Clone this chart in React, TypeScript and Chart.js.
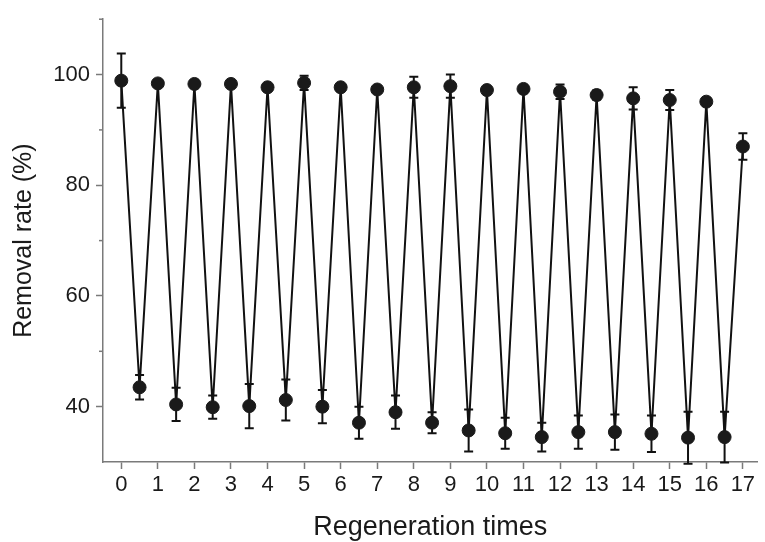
import React, { useEffect, useRef } from "react";
import { Chart, registerables } from "chart.js";

Chart.register(...registerables);

// Regeneration positions (adsorption at integer, desorption at half step)
const X_POS = [0, 0.5, 1, 1.5, 2, 2.5, 3, 3.5, 4, 4.5, 5, 5.5, 6, 6.5, 7, 7.5, 8, 8.5, 9, 9.5, 10, 10.5, 11, 11.5, 12, 12.5, 13, 13.5, 14, 14.5, 15, 15.5, 16, 16.5, 17];
const REMOVAL = [98.9, 43.5, 98.4, 40.4, 98.3, 39.9, 98.3, 40.1, 97.7, 41.2, 98.5, 40.0, 97.7, 37.1, 97.3, 39.0, 97.7, 37.1, 97.9, 35.7, 97.2, 35.2, 97.4, 34.5, 96.9, 35.4, 96.3, 35.4, 95.7, 35.1, 95.4, 34.4, 95.1, 34.5, 87.0];
const ERRORS = [4.9, 2.2, 0.4, 3.0, 0.4, 2.1, 0.4, 4.0, 0.4, 3.7, 1.3, 3.0, 0.4, 2.9, 0.5, 3.0, 1.9, 1.9, 2.1, 3.8, 0.4, 2.8, 0.4, 2.6, 1.3, 3.0, 0.8, 3.2, 2.0, 3.3, 1.8, 4.7, 0.6, 4.6, 2.4];

const X_TICKS = [0, 1, 2, 3, 4, 5, 6, 7, 8, 9, 10, 11, 12, 13, 14, 15, 16, 17];
const Y_LABELS = [40, 60, 80, 100];
const Y_MINOR = [50, 70, 90, 110];

const FONT = "'Liberation Sans', Arial, Helvetica, sans-serif";
const AXIS_COLOR = "#7a7a7a";
const TEXT_COLOR = "#1a1a1a";

const errorBarPlugin = {
  id: "errorBars",
  beforeDatasetsDraw(chart: any) {
    const { ctx, scales } = chart;
    const xs = scales.x;
    const ys = scales.y;
    ctx.save();
    ctx.strokeStyle = "#111";
    ctx.lineWidth = 2;
    X_POS.forEach((xv, i) => {
      const px = xs.getPixelForValue(xv);
      const top = ys.getPixelForValue(REMOVAL[i] + ERRORS[i]);
      const bot = ys.getPixelForValue(REMOVAL[i] - ERRORS[i]);
      ctx.beginPath();
      ctx.moveTo(px, top);
      ctx.lineTo(px, bot);
      ctx.moveTo(px - 4.5, top);
      ctx.lineTo(px + 4.5, top);
      ctx.moveTo(px - 4.5, bot);
      ctx.lineTo(px + 4.5, bot);
      ctx.stroke();
    });
    ctx.restore();
  },
  afterDraw(chart: any) {
    const { ctx, scales } = chart;
    const ys = scales.y;
    const left = chart.chartArea.left;
    ctx.save();
    ctx.strokeStyle = AXIS_COLOR;
    ctx.lineWidth = 1.5;
    Y_MINOR.forEach((v) => {
      const py = ys.getPixelForValue(v);
      ctx.beginPath();
      ctx.moveTo(left - 4, py);
      ctx.lineTo(left, py);
      ctx.stroke();
    });
    ctx.restore();
  },
};

export default function App() {
  const canvasRef = useRef<HTMLCanvasElement | null>(null);

  useEffect(() => {
    if (!canvasRef.current) return;
    const chart = new Chart(canvasRef.current, {
      type: "line",
      data: {
        datasets: [
          {
            label: "Removal rate",
            data: X_POS.map((x, i) => ({ x, y: REMOVAL[i] })),
            borderColor: "#111",
            borderWidth: 2,
            pointRadius: 6.5,
            pointBackgroundColor: "#1a1a1a",
            pointBorderColor: "#1a1a1a",
            pointBorderWidth: 1,
            tension: 0,
            clip: false as any,
          },
        ],
      },
      options: {
        responsive: false,
        animation: false,
        devicePixelRatio: 1,
        layout: { padding: { top: 14, right: 0, left: 0, bottom: 0 } },
        plugins: {
          legend: { display: false },
          tooltip: { enabled: false },
        },
        scales: {
          x: {
            type: "linear",
            min: -0.5,
            max: 17.4,
            afterBuildTicks: (scale: any) => {
              scale.ticks = X_TICKS.map((v) => ({ value: v }));
            },
            afterFit: (scale: any) => {
              scale.height = 80;
              scale.paddingLeft = 0;
              scale.paddingRight = 0;
            },
            ticks: {
              autoSkip: false,
              maxRotation: 0,
              padding: 3,
              color: TEXT_COLOR,
              font: { family: FONT, size: 22 },
              callback: (v: any) => String(v),
            },
            grid: {
              drawOnChartArea: false,
              drawTicks: true,
              tickLength: 7,
              tickColor: AXIS_COLOR,
              tickWidth: 1.5,
            },
            border: { display: true, color: AXIS_COLOR, width: 1.5 },
            title: {
              display: true,
              text: "Regeneration times",
              color: TEXT_COLOR,
              font: { family: FONT, size: 27, lineHeight: 1 },
              padding: { top: 0, bottom: 1 },
            },
          },
          y: {
            type: "linear",
            min: 30,
            max: 110,
            afterFit: (scale: any) => {
              scale.width = 103;
            },
            ticks: {
              stepSize: 10,
              padding: 6,
              color: TEXT_COLOR,
              font: { family: FONT, size: 22 },
              callback: (v: any) => (Y_LABELS.includes(Number(v)) ? String(v) : ""),
            },
            grid: {
              drawOnChartArea: false,
              drawTicks: true,
              tickLength: 7,
              tickWidth: 1.5,
              tickColor: (ctx: any) =>
                ctx.tick && Y_LABELS.includes(ctx.tick.value) ? AXIS_COLOR : "rgba(0,0,0,0)",
            },
            border: { display: true, color: AXIS_COLOR, width: 1.5 },
            title: {
              display: true,
              text: "Removal rate (%)",
              color: TEXT_COLOR,
              font: { family: FONT, size: 25, lineHeight: 1 },
              padding: { top: 12, bottom: 0 },
            },
          },
        },
      },
      plugins: [errorBarPlugin],
    } as any);
    return () => chart.destroy();
  }, []);

  return (
    <div style={{ position: "absolute", left: 0, top: 0, width: 765, height: 542, background: "#fff" }}>
      <canvas ref={canvasRef} width={765} height={542} style={{ display: "block" }} />
    </div>
  );
}
